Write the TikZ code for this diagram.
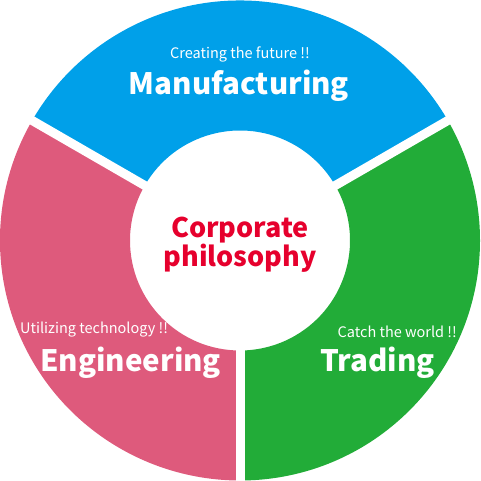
\documentclass[tikz,border=0pt]{standalone}
\usepackage{fontspec}
\setmainfont{Noto Sans CJK JP}
\definecolor{mfgblue}{RGB}{0,160,233}
\definecolor{trdgreen}{RGB}{34,172,56}
\definecolor{engpink}{RGB}{222,90,124}
\definecolor{corpred}{RGB}{230,0,45}
\tikzset{
  tagline/.style={text=white,font=\fontsize{14.5}{14.5}\selectfont,inner sep=0pt},
  heading/.style={text=white,font=\fontsize{29.5}{29.5}\bfseries\selectfont,inner sep=0pt}
}
\begin{document}
\begin{tikzpicture}[x=1pt,y=1pt]
	\useasboundingbox (0,0) rectangle (480,481);
	\coordinate (c) at (240,240.5);
	% ring segments
	\foreach \a/\col in {30/mfgblue,150/engpink,270/trdgreen}
		\fill[\col,shift={(c)}] (\a:240) arc[start angle=\a,end angle=\a+120,radius=240]
			-- (\a+120:110) arc[start angle=\a+120,end angle=\a,radius=110] -- cycle;
	% gaps
	\foreach \a in {30,150,270}
		\draw[white,line width=9pt] (c) -- ++(\a:250);
	\node[tagline] (mfgtag) at (240,427) {Creating the future !!};
	\node[heading,anchor=base] (mfg) at (239,386) {Manufacturing};
	\node[tagline,anchor=west] (engtag) at (20,151) {Utilizing technology !!};
	\node[heading,anchor=base west] (eng) at (40,109) {Engineering};
	\node[tagline,anchor=east] (trdtag) at (457,149) {Catch the world !!};
	\node[heading,anchor=base west] (trd) at (320,109) {Trading};
	\node[text=corpred,font=\fontsize{27}{29}\bfseries\selectfont,align=center] (corp) at (240,236) {Corporate\\philosophy};
\end{tikzpicture}
\end{document}
